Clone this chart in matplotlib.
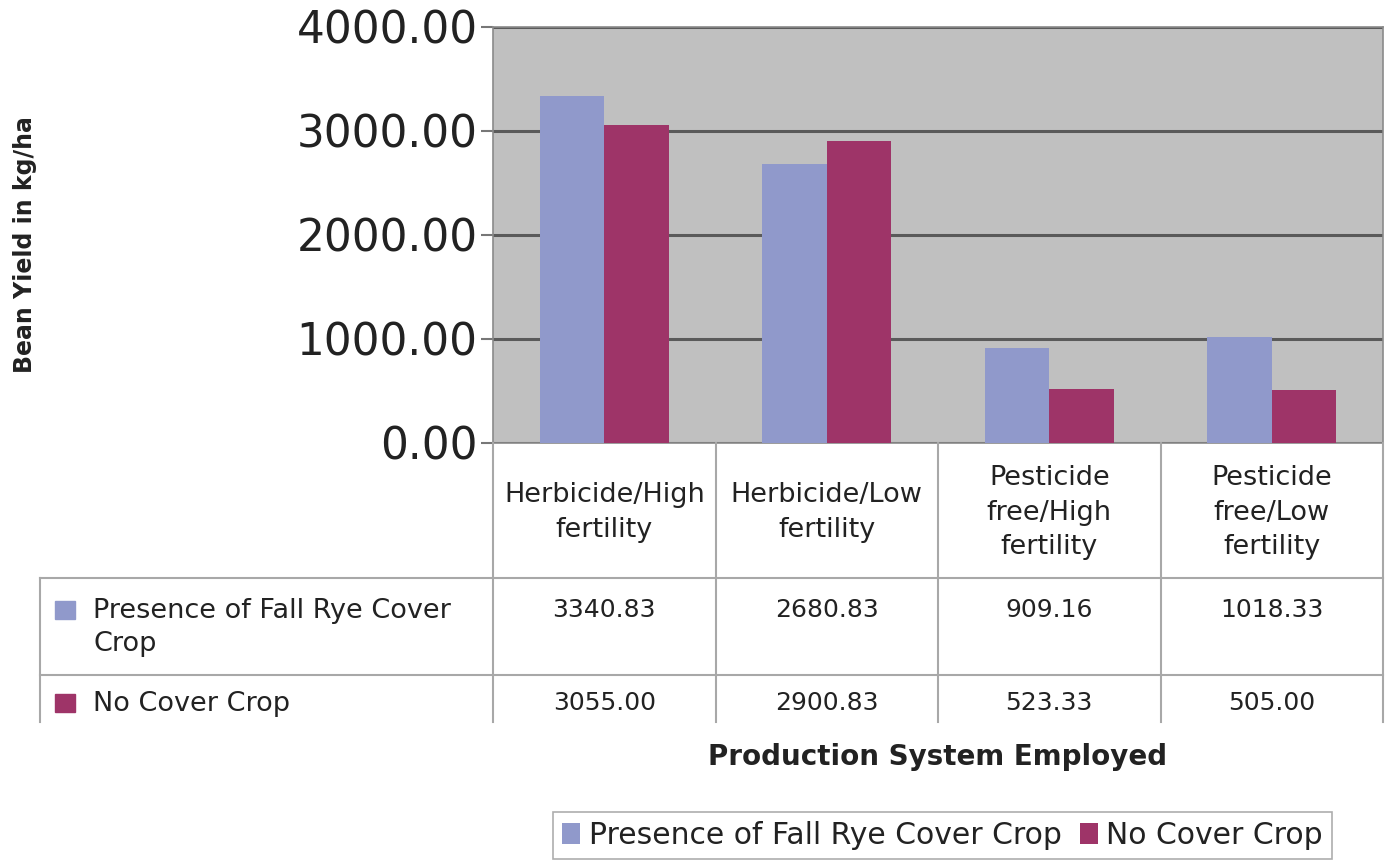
import matplotlib
matplotlib.use("Agg")
import matplotlib.pyplot as plt
from matplotlib.patches import Patch
import numpy as np

plt.rcParams['font.family'] = ['DejaVu Sans']

categories = ["Herbicide/High\nfertility", "Herbicide/Low\nfertility",
              "Pesticide\nfree/High\nfertility", "Pesticide\nfree/Low\nfertility"]
series_names = ["Presence of Fall Rye Cover Crop", "No Cover Crop"]
row_labels = ["Presence of Fall Rye Cover\nCrop", "No Cover Crop"]
rye_values = [3340.83, 2680.83, 909.16, 1018.33]
no_cover_values = [3055.00, 2900.83, 523.33, 505.00]
y_ticks = [0, 1000, 2000, 3000, 4000]

colors = ["#9099CB", "#9E3468"]

W, H = 1385, 865
fig = plt.figure(figsize=(W / 100, H / 100), dpi=100)

# main plot area (pixels)
px_left, px_right, px_top, px_bottom = 493, 1383, 27, 443
ax = fig.add_axes([px_left / W, 1 - px_bottom / H, (px_right - px_left) / W, (px_bottom - px_top) / H])
ax.set_facecolor("#C0C0C0")
x = np.arange(len(categories))
bw = 0.29
ax.bar(x - bw / 2, rye_values, width=bw, color=colors[0], zorder=3)
ax.bar(x + bw / 2, no_cover_values, width=bw, color=colors[1], zorder=3)
ax.set_xlim(-0.5, len(categories) - 0.5)
ax.set_ylim(0, 4000)
ax.set_yticks(y_ticks)
ax.set_yticklabels([f"{v:.2f}" for v in y_ticks], fontsize=31.5, color="#222222")
ax.set_xticks([])
ax.yaxis.grid(True, color="#5a5a5a", linewidth=2.2, zorder=1)
ax.set_axisbelow(True)
ax.tick_params(axis="y", length=9, width=1.5, color="#777777", pad=2)
for s in ax.spines.values():
    s.set_color("#8a8a8a")
    s.set_linewidth(1.2)

# y axis label
fig.text(25 / W, 1 - 245 / H, "Bean Yield in kg/ha", rotation=90, ha="center", va="center",
         fontsize=17, fontweight="bold", color="#222222")

# data table below the plot
t_left, t_bottom = 40, 722
unit = (px_right - px_left) / len(categories)
axt = fig.add_axes([t_left / W, 1 - t_bottom / H, (px_right - t_left) / W, (t_bottom - px_bottom) / H])
axt.set_xlim(-0.5 - (px_left - t_left) / unit, len(categories) - 0.5)
tab_h = t_bottom - px_bottom
axt.set_ylim(tab_h, 0)
axt.axis("off")
xl = axt.get_xlim()[0]
lc = "#a8a8a8"
hdr_bot, r1_bot = 135, 232
# horizontal lines
for yy in (hdr_bot, r1_bot):
    axt.plot([xl, len(categories) - 0.5], [yy, yy], color=lc, lw=1.5, clip_on=False)
# vertical lines
for xx in np.arange(-0.5, len(categories), 1.0):
    axt.plot([xx, xx], [0, tab_h], color=lc, lw=1.5, clip_on=False)
axt.plot([xl, xl], [hdr_bot, tab_h], color=lc, lw=1.5, clip_on=False)

fs = 19.5
fs_num = 18
r1_y = hdr_bot + 32
r2_y = 260
for i, c in enumerate(categories):
    axt.text(i, hdr_bot / 2 + 2, c, ha="center", va="center", fontsize=fs, linespacing=1.42, color="#222222")
for i, v in enumerate(rye_values):
    axt.text(i, r1_y, f"{v:.2f}", ha="center", va="center", fontsize=fs_num, color="#222222")
for i, v in enumerate(no_cover_values):
    axt.text(i, r2_y, f"{v:.2f}", ha="center", va="center", fontsize=fs_num, color="#222222")

# row labels with colour keys
key_x = xl + 15 / unit
txt_x = xl + 53 / unit
for (lab, yy, col) in [(row_labels[0], r1_y, colors[0]), (row_labels[1], r2_y, colors[1])]:
    axt.add_patch(plt.Rectangle((key_x, yy - 9), 20 / unit, 18, color=col, clip_on=False))
    axt.text(txt_x, yy - 12, lab, ha="left", va="top", fontsize=fs, linespacing=1.35, color="#222222")

# x axis title
fig.text(938 / W, 1 - 757 / H, "Production System Employed", ha="center", va="center",
         fontsize=20, fontweight="bold", color="#222222")

# legend
handles = [Patch(facecolor=colors[0]), Patch(facecolor=colors[1])]
leg = fig.legend(handles, series_names, loc="upper left", bbox_to_anchor=(553 / W, 1 - 812 / H),
                 ncol=2, fontsize=21.5, frameon=True, fancybox=False, handlelength=0.6, handleheight=0.7,
                 handletextpad=0.3, columnspacing=0.6, borderpad=0.3, borderaxespad=0)
leg.get_frame().set_edgecolor("#999999")
leg.get_frame().set_linewidth(1.2)
for t in leg.get_texts():
    t.set_color("#222222")

fig.savefig("out.png", dpi=100)
